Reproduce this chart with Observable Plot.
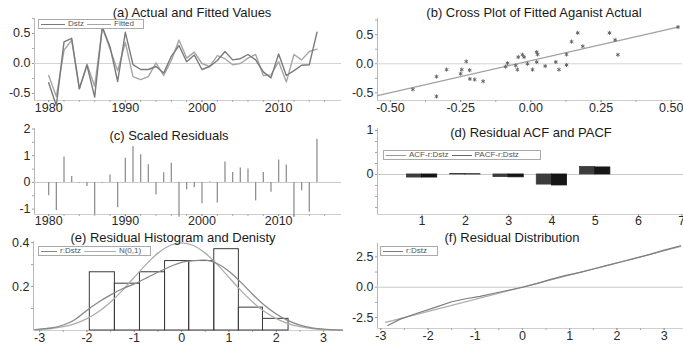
<!DOCTYPE html>
<html>
<head>
<meta charset="utf-8">
<script src="https://cdn.jsdelivr.net/npm/d3@7"></script>
<script src="https://cdn.jsdelivr.net/npm/@observablehq/plot@0.6"></script>
<style>
  body { margin: 0; background: #fff; }
  #wrap { position: relative; width: 683px; height: 347px; overflow: hidden; font-family: "Liberation Sans", Arial, sans-serif; }
  #wrap svg { position: absolute; }
  .title { position: absolute; font-size: 13px; line-height: 13px; color: #1a1a1a; white-space: nowrap; transform: translateX(-50%); }
  .legend { position: absolute; box-sizing: border-box; border: 1px solid #aaa; background: #fff; font-size: 8px; line-height: 8px; color: #555; display: flex; align-items: center; height: 10px; padding: 0 2px; gap: 3px; white-space: nowrap; }
  .sw { display: inline-block; border-top: 1px solid #999; }
</style>
</head>
<body>
<div id="wrap"></div>
<script>
// ---- (a) actual and fitted values, 1980-2015 ----
const firstYear = 1980;
const dstz   = [-0.32, -0.70, 0.36, 0.42, -0.42, -0.03, -0.56, 0.61, 0.28, -0.30, 0.52, -0.02, -0.10, -0.10, -0.05, -0.16, 0.12, 0.30, 0.03, 0.14, -0.10, -0.05, 0.05, 0.20, 0.06, 0.08, 0.15, 0.06, -0.14, -0.24, 0.16, -0.20, -0.12, -0.03, -0.02, 0.52];
const fitted = [-0.20, -0.55, 0.22, 0.39, -0.42, -0.01, -0.38, 0.60, 0.24, -0.12, 0.35, -0.22, -0.27, -0.22, 0.01, -0.20, 0.05, 0.39, 0.09, 0.19, 0.00, -0.05, 0.13, 0.08, -0.02, 0.00, 0.09, 0.15, -0.20, -0.19, 0.03, -0.31, 0.15, 0.06, 0.20, 0.24];
const yearTicks = [1980, 1990, 2000, 2010];

// ---- (b) cross plot of fitted against actual ----
const crossX = [-0.42, -0.336, -0.336, -0.30, -0.25, -0.246, -0.23, -0.218, -0.217, -0.20, -0.17, -0.09, -0.083, -0.054, -0.048, -0.045, -0.03, -0.024, -0.012, 0.006, 0.021, 0.024, 0.021, 0.051, 0.089, 0.10, 0.127, 0.127, 0.145, 0.167, 0.185, 0.28, 0.30, 0.31, 0.524];
const crossY = [-0.44, -0.22, -0.56, -0.10, -0.17, -0.10, 0.04, -0.11, -0.26, -0.27, -0.30, -0.05, 0.01, -0.03, -0.10, 0.115, 0.155, 0.115, 0.0, -0.10, 0.20, 0.16, 0.03, -0.04, 0.03, -0.10, 0.16, -0.02, 0.38, 0.53, 0.30, 0.53, 0.41, 0.155, 0.63];
const crossLineX = [-0.546, 0.524];
const crossLineY = [-0.545, 0.63];
const crossTicks = [-0.5, -0.25, 0, 0.25, 0.5];

// ---- (c) scaled residuals ----
const scaledResid = [-0.50, -1.05, 0.95, 0.22, -0.02, -0.15, -1.20, -0.03, 0.28, -0.95, 0.91, 1.35, 1.04, 0.66, -0.47, 0.36, 0.72, -1.30, -0.27, -0.19, -0.80, 0.02, -0.77, 0.77, 0.37, 0.54, 0.50, -0.69, 0.37, -0.37, 0.84, 0.65, -1.31, -0.31, -1.12, 1.62];

// ---- (d) residual ACF and PACF ----
const lags = [1, 2, 3, 4, 5];
const acf  = [-0.07, 0.01, -0.06, -0.23, 0.17];
const pacf = [-0.07, 0.005, -0.065, -0.25, 0.16];

// ---- (e) residual histogram and density ----
const binEdges   = [-1.94, -1.41, -0.88, -0.35, 0.16, 0.69, 1.21, 1.72, 2.26];
const binDensity = [0.265, 0.213, 0.265, 0.316, 0.316, 0.37, 0.104, 0.053];
const kdeX = [-3.1, -2.75, -2.5, -2.25, -2, -1.75, -1.5, -1.25, -1, -0.75, -0.5, -0.25, 0, 0.25, 0.5, 0.75, 1, 1.25, 1.5, 1.75, 2, 2.25, 2.5, 2.75, 3, 3.4];
const kdeY = [0.004, 0.012, 0.025, 0.05, 0.092, 0.13, 0.162, 0.19, 0.212, 0.238, 0.265, 0.29, 0.31, 0.318, 0.32, 0.305, 0.27, 0.22, 0.165, 0.115, 0.075, 0.045, 0.025, 0.012, 0.006, 0.002];
const normX = [-3.1, -2.75, -2.5, -2.25, -2, -1.75, -1.5, -1.25, -1, -0.75, -0.5, -0.25, 0, 0.25, 0.5, 0.75, 1, 1.25, 1.5, 1.75, 2, 2.25, 2.5, 2.75, 3, 3.25, 3.4];
const normY = [0.0033, 0.0091, 0.0175, 0.0317, 0.054, 0.0863, 0.1295, 0.1826, 0.242, 0.3011, 0.3521, 0.3867, 0.3989, 0.3867, 0.3521, 0.3011, 0.242, 0.1826, 0.1295, 0.0863, 0.054, 0.0317, 0.0175, 0.0091, 0.0044, 0.002, 0.0012];

// ---- (f) residual distribution (QQ) ----
const qqX = [-2.85, -2.6, -2.2, -1.8, -1.5, -1.2, -0.9, -0.6, -0.3, 0, 0.3, 0.6, 0.9, 1.2, 1.5, 1.8, 2.1, 2.4, 2.7, 3.0, 3.35];
const qqY = [-3.15, -2.65, -2.1, -1.6, -1.2, -0.95, -0.75, -0.5, -0.25, 0.0, 0.3, 0.65, 0.95, 1.2, 1.5, 1.8, 2.1, 2.4, 2.7, 3.05, 3.4];
const qqRef = [-2.9, 3.35];

const wrap = document.getElementById("wrap");
const fmt = (n) => (d) => d.toFixed(n);
const blank = () => "";

// common frame: left axis line, bottom axis line, major and minor ticks
function axes({xDom, yDom, xTicks, xFmt, xMinor = [], yTicks, yFmt, yMinor = [], xPad = 1}) {
  return [
    Plot.ruleY([yDom[0]], {stroke: "#cfcfcf"}),
    Plot.ruleX([xDom[0]], {stroke: "#b8b8b8"}),
    Plot.axisX(xMinor, {tickSize: 2, tickFormat: blank, stroke: "#aaa", label: null}),
    Plot.axisX(xTicks, {tickSize: 2, tickPadding: xPad, tickFormat: xFmt, stroke: "#999", fill: "#2a2a2a", label: null}),
    Plot.axisY(yMinor, {tickSize: 2, tickFormat: blank, stroke: "#aaa", label: null}),
    Plot.axisY(yTicks, {tickSize: 2, tickPadding: 2, tickFormat: yFmt, stroke: "#999", fill: "#2a2a2a", label: null})
  ];
}

function panel({left, top, width, height, margins, xDom, yDom, marks}) {
  const svg = Plot.plot({
    width, height,
    marginLeft: margins[0], marginRight: margins[1], marginTop: margins[2], marginBottom: margins[3],
    x: {domain: xDom},
    y: {domain: yDom},
    style: {fontFamily: "'Liberation Sans', Arial, sans-serif", fontSize: "12.5px", color: "#333", background: "transparent", overflow: "visible"},
    marks
  });
  svg.style.left = left + "px";
  svg.style.top = top + "px";
  wrap.appendChild(svg);
}

function title(text, cx, cy) {
  const d = document.createElement("div");
  d.className = "title";
  d.textContent = text;
  d.style.left = cx + "px";
  d.style.top = (cy - 6.5) + "px";
  wrap.appendChild(d);
}

function legend(left, top, width, items) {
  const d = document.createElement("div");
  d.className = "legend";
  d.style.left = left + "px";
  d.style.top = top + "px";
  d.style.width = width + "px";
  for (const it of items) {
    const s = document.createElement("span");
    s.className = "sw";
    s.style.width = it.sw + "px";
    s.style.borderTopColor = it.color;
    d.appendChild(s);
    const t = document.createElement("span");
    t.textContent = it.label;
    d.appendChild(t);
  }
  wrap.appendChild(d);
}

// (a)
const series = dstz.map((v, i) => ({year: firstYear + i, dstz: v, fitted: fitted[i]}));
{
  const xDom = [1978.15, 2018.2], yDom = [-0.617, 0.75];
  panel({left: 0, top: 0, width: 342, height: 115, margins: [34, 1, 18, 15], xDom, yDom, marks: [
    ...axes({xDom, yDom, xTicks: yearTicks, xFmt: (d) => String(d), xMinor: d3.range(1980, 2018, 2),
             yTicks: [-0.5, 0, 0.5], yFmt: fmt(1), yMinor: [-0.25, 0.25, 0.75]}),
    Plot.ruleY([0], {stroke: "#d4d4d4"}),
    Plot.lineY(series, {x: "year", y: "fitted", stroke: "#a6a6a6", strokeWidth: 1.4}),
    Plot.lineY(series, {x: "year", y: "dstz", stroke: "#7a7a7a", strokeWidth: 1.4})
  ]});
  title("(a) Actual and Fitted Values", 192, 12);
  legend(38, 19, 106, [{label: "Dstz", color: "#7a7a7a", sw: 24}, {label: "Fitted", color: "#a6a6a6", sw: 24}]);
}

// (b)
{
  const pts = crossX.map((x, i) => ({x, y: crossY[i]}));
  const ln = crossLineX.map((x, i) => ({x, y: crossLineY[i]}));
  const xDom = [-0.546, 0.54], yDom = [-0.63, 0.777];
  panel({left: 342, top: 0, width: 341, height: 115, margins: [35, 1, 18, 15], xDom, yDom, marks: [
    ...axes({xDom, yDom, xTicks: crossTicks, xFmt: fmt(2), xMinor: d3.range(-0.5, 0.55, 0.125),
             yTicks: [-0.5, 0, 0.5], yFmt: fmt(1), yMinor: [-0.25, 0.25, 0.75]}),
    Plot.ruleY([0], {stroke: "#d4d4d4"}),
    Plot.line(ln, {x: "x", y: "y", stroke: "#a0a0a0", strokeWidth: 1.2}),
    Plot.dot(pts, {x: "x", y: "y", symbol: "asterisk", r: 1.9, stroke: "#666", strokeWidth: 1})
  ]});
  title("(b) Cross Plot of Fitted Aganist Actual", 534, 12);
}

// (c)
{
  const res = scaledResid.map((v, i) => ({year: firstYear + i, r: v}));
  const xDom = [1978.15, 2018.2], yDom = [-1.2, 2.02];
  panel({left: 0, top: 115, width: 342, height: 115, margins: [34, 1, 13, 16], xDom, yDom, marks: [
    ...axes({xDom, yDom, xTicks: yearTicks, xFmt: (d) => String(d), xMinor: d3.range(1980, 2018, 2), xPad: 0,
             yTicks: [-1, 0, 1, 2], yFmt: (d) => String(d), yMinor: [-0.5, 0.5, 1.5]}),
    Plot.ruleY([0], {stroke: "#c8c8c8"}),
    Plot.ruleX(res, {x: "year", y1: 0, y2: "r", stroke: "#919191", strokeWidth: 1.3})
  ]});
  title("(c) Scaled Residuals", 169, 135);
}

// (d)
{
  const half = 0.35;
  const bars = lags.flatMap((k, i) => [
    {x1: k - half, x2: k, v: acf[i], s: "ACF"},
    {x1: k, x2: k + half, v: pacf[i], s: "PACF"}
  ]);
  const xDom = [-0.03, 7.04], yDom = [-0.91, 1.045];
  panel({left: 342, top: 115, width: 341, height: 115, margins: [35, 0, 13, 16], xDom, yDom, marks: [
    ...axes({xDom, yDom, xTicks: [1, 2, 3, 4, 5, 6, 7], xFmt: (d) => String(d), xPad: 0,
             yTicks: [0, 1], yFmt: (d) => String(d), yMinor: [-0.75, -0.5, -0.25, 0.25, 0.5, 0.75]}),
    Plot.ruleY([0], {stroke: "#c8c8c8"}),
    Plot.rect(bars, {x1: "x1", x2: "x2", y1: 0, y2: "v", fill: (d) => d.s === "ACF" ? "#3c3c3c" : "#161616", stroke: (d) => d.s === "ACF" ? "#3c3c3c" : "#161616", strokeWidth: 0.8})
  ]});
  title("(d) Residual ACF and PACF", 531, 132);
  legend(383, 150, 158, [{label: "ACF-r:Dstz", color: "#999", sw: 20}, {label: "PACF-r:Dstz", color: "#666", sw: 20}]);
}

// (e)
{
  const bins = binDensity.map((v, i) => ({x1: binEdges[i], x2: binEdges[i + 1], v}));
  const kde = kdeX.map((x, i) => ({x, y: kdeY[i]}));
  const norm = normX.map((x, i) => ({x, y: normY[i]}));
  const xDom = [-3.13, 3.4], yDom = [0, 0.405];
  panel({left: 0, top: 230, width: 342, height: 117, margins: [33, 0, 11, 17], xDom, yDom, marks: [
    ...axes({xDom, yDom, xTicks: [-3, -2, -1, 0, 1, 2, 3], xFmt: (d) => String(d), xMinor: d3.range(-3, 3.5, 0.5),
             yTicks: [0.2, 0.4], yFmt: fmt(1), yMinor: [0.1, 0.3]}),
    Plot.rect(bins, {x1: "x1", x2: "x2", y1: 0, y2: "v", fill: "none", stroke: "#3a3a3a", strokeWidth: 1}),
    Plot.line(norm, {x: "x", y: "y", curve: "natural", stroke: "#adadad", strokeWidth: 1.3}),
    Plot.line(kde, {x: "x", y: "y", curve: "natural", stroke: "#888", strokeWidth: 1.3})
  ]});
  title("(e) Residual Histogram and Denisty", 173, 237);
  legend(38, 246, 113, [{label: "r:Dstz", color: "#888", sw: 16}, {label: "N(0,1)", color: "#adadad", sw: 32}]);
}

// (f)
{
  const qq = qqX.map((x, i) => ({x, y: qqY[i]}));
  const ref = qqRef.map((v) => ({x: v, y: v}));
  const xDom = [-3.07, 3.41], yDom = [-3.4, 3.6];
  panel({left: 342, top: 230, width: 341, height: 117, margins: [35, 0, 13, 19], xDom, yDom, marks: [
    ...axes({xDom, yDom, xTicks: [-3, -2, -1, 0, 1, 2, 3], xFmt: (d) => String(d), xMinor: d3.range(-3, 3.5, 0.5),
             yTicks: [-2.5, 0, 2.5], yFmt: fmt(1), yMinor: [-1.25, 1.25]}),
    Plot.ruleY([0], {stroke: "#c8c8c8"}),
    Plot.line(ref, {x: "x", y: "y", stroke: "#adadad", strokeWidth: 1.2}),
    Plot.line(qq, {x: "x", y: "y", stroke: "#7d7d7d", strokeWidth: 1.2})
  ]});
  title("(f) Residual Distribution", 512, 237.5);
  legend(380, 246, 58, [{label: "r:Dstz", color: "#7d7d7d", sw: 20}]);
}
</script>
</body>
</html>
